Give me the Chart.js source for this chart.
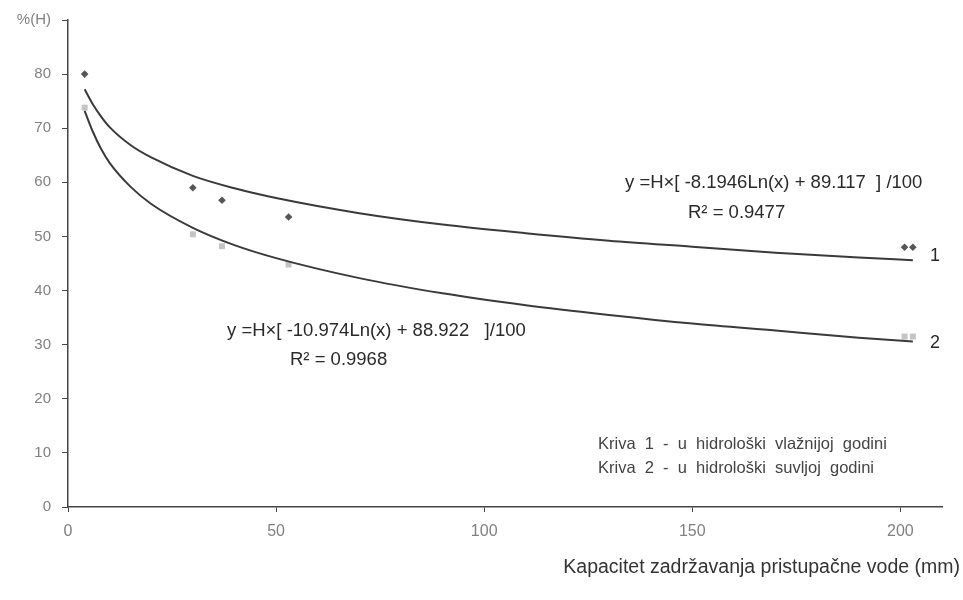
<!DOCTYPE html>
<html>
<head>
<meta charset="utf-8">
<script src="https://cdn.jsdelivr.net/npm/chart.js@4.4.1/dist/chart.umd.min.js"></script>
<style>
    body { margin: 0; background: #fff; }
    #wrap { width: 963px; height: 600px; position: relative; }
</style>
</head>
<body>
<div id="wrap"><canvas id="chart"></canvas></div>
<script>
// measured points (x = mm, y = %H)
var wetX = [4, 30, 37, 53, 201, 203];
var wetY = [80, 59, 56.7, 53.6, 48, 48];
var dryX = [4, 30, 37, 53, 201, 203];
var dryY = [73.8, 50.4, 48.2, 44.8, 31.5, 31.5];

// fitted curves
var fitX = [4, 6, 8, 10, 15, 20, 30, 40, 50, 70, 90, 110, 130, 150, 170, 190, 203];
var fit1 = [77.2, 74.4, 72.1, 70.2, 66.9, 64.6, 61.2, 58.9, 57.1, 54.3, 52.2, 50.6, 49.2, 48.1, 47.0, 46.1, 45.6];
var fit2 = [73.2, 69.3, 66.1, 63.6, 59.2, 56.0, 51.6, 48.4, 46.0, 42.3, 39.5, 37.3, 35.5, 33.9, 32.6, 31.3, 30.6];

var xTicks = [0, 50, 100, 150, 200];
var yTicks = [0, 10, 20, 30, 40, 50, 60, 70, 80, 90];
var yTopLabel = '%(H)';

function pairs(xs, ys) {
    return xs.map(function(x, i) { return { x: x, y: ys[i] }; });
}

var FONT = '"Liberation Sans", Arial, sans-serif';

var textPlugin = {
    id: 'texts',
    afterDraw: function(chart) {
        var ctx = chart.ctx;
        ctx.save();
        ctx.fillStyle = '#2a2a2a';
        ctx.textBaseline = 'middle';
        ctx.textAlign = 'left';
        ctx.font = '18.5px ' + FONT;
        ctx.fillText('y =H\u00d7[ -8.1946Ln(x) + 89.117  ] /100', 625, 183);
        ctx.fillText('R\u00b2 = 0.9477', 688, 213);
        ctx.fillText('y =H\u00d7[ -10.974Ln(x) + 88.922   ]/100', 227, 331);
        ctx.fillText('R\u00b2 = 0.9968', 290, 360);
        ctx.font = '18px ' + FONT;
        ctx.fillText('1', 930, 256);
        ctx.fillText('2', 930, 343);
        ctx.fillStyle = '#444';
        ctx.font = '16.5px ' + FONT;
        ctx.fillText('Kriva  1  -  u  hidrolo\u0161ki  vla\u017enijoj  godini', 598, 444);
        ctx.fillText('Kriva  2  -  u  hidrolo\u0161ki  suvljoj  godini', 598, 468);
        ctx.fillStyle = '#333';
        ctx.font = '19.5px ' + FONT;
        ctx.textAlign = 'right';
        ctx.fillText('Kapacitet zadr\u017eavanja pristupa\u010dne vode (mm)', 960, 568);
        ctx.restore();
    }
};

var ctx = document.getElementById('chart').getContext('2d');
new Chart(ctx, {
    type: 'scatter',
    data: {
        datasets: [{
            label: 'Kriva 1 (fit)',
            data: pairs(fitX, fit1),
            showLine: true,
            borderColor: '#3a3a3a',
            borderWidth: 2,
            pointRadius: 0,
            cubicInterpolationMode: 'monotone'
        }, {
            label: 'Kriva 2 (fit)',
            data: pairs(fitX, fit2),
            showLine: true,
            borderColor: '#3a3a3a',
            borderWidth: 2,
            pointRadius: 0,
            cubicInterpolationMode: 'monotone'
        }, {
            label: 'Kriva 1',
            data: pairs(wetX, wetY),
            pointStyle: 'rectRot',
            pointRadius: 3.8,
            backgroundColor: '#555',
            borderColor: '#555',
            borderWidth: 0
        }, {
            label: 'Kriva 2',
            data: pairs(dryX, dryY),
            pointStyle: 'rect',
            pointRadius: 4.2,
            backgroundColor: '#c4c4c4',
            borderColor: '#c4c4c4',
            borderWidth: 0
        }]
    },
    options: {
        responsive: true,
        maintainAspectRatio: false,
        animation: false,
        layout: { padding: { top: 17, right: 21, left: 0, bottom: 0 } },
        plugins: {
            legend: { display: false },
            tooltip: { enabled: false }
        },
        scales: {
            x: {
                type: 'linear',
                min: 0,
                max: 210,
                afterBuildTicks: function(scale) {
                    scale.ticks = xTicks.map(function(v) { return { value: v }; });
                },
                afterFit: function(scale) { scale.height = 93; },
                grid: { drawOnChartArea: false, drawTicks: true, tickLength: 5, color: '#444' },
                border: { display: true, color: '#444', width: 1.5 },
                ticks: { color: '#808080', font: { family: FONT, size: 16 }, padding: 10 }
            },
            y: {
                type: 'linear',
                min: 0,
                max: 90,
                afterBuildTicks: function(scale) {
                    scale.ticks = yTicks.map(function(v) { return { value: v }; });
                },
                afterFit: function(scale) { scale.width = 68; },
                grid: { drawOnChartArea: false, drawTicks: true, tickLength: 6, color: '#444' },
                border: { display: true, color: '#444', width: 1.5 },
                ticks: {
                    color: '#808080',
                    font: { family: FONT, size: 15 },
                    padding: 11,
                    callback: function(v) { return v === 90 ? yTopLabel : v; }
                }
            }
        }
    },
    plugins: [textPlugin]
});
</script>
</body>
</html>
